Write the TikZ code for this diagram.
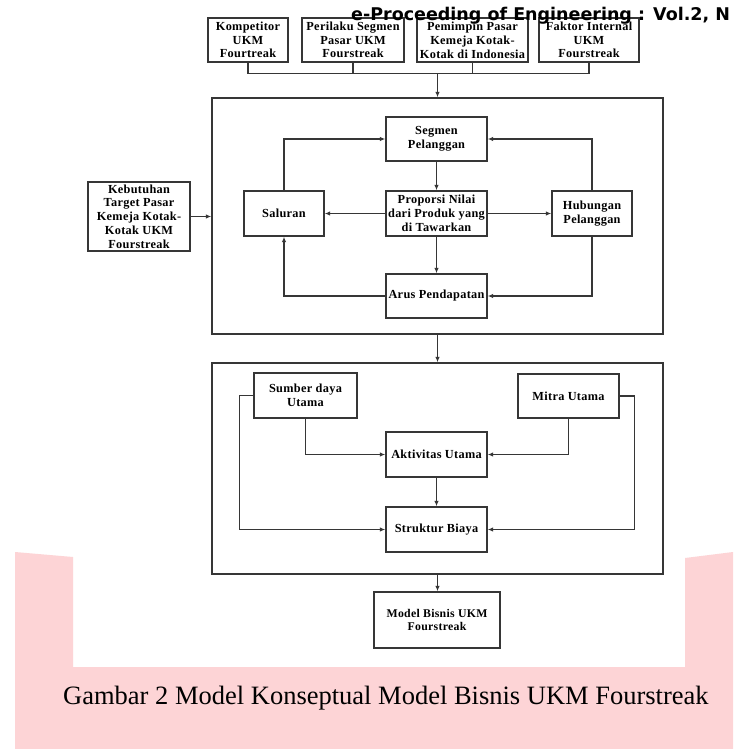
\documentclass[tikz,border=0pt]{standalone}
\usepackage{fontspec}
\setmainfont{Liberation Serif}
\newfontfamily\hdrfont{DejaVu Sans}
\newfontfamily\boxfont[LetterSpace=2.5]{Liberation Serif}
\usetikzlibrary{arrows.meta}
\definecolor{linegray}{HTML}{363636}
\definecolor{pinkbg}{HTML}{FDD4D6}
\tikzset{
  bx/.style={draw=linegray, line width=1.4pt, fill=white, inner sep=0pt, align=center,
    font=\boxfont\fontsize{12.3}{13.8}\selectfont\bfseries},
  frame/.style={draw=linegray, line width=1.4pt, inner sep=0pt},
  conn/.style={draw=linegray, line width=1.3pt},
  arr/.style={conn, -{Latex[length=5.5pt,width=4.5pt]}},
}
\begin{document}
\begin{tikzpicture}[x=1pt,y=-1pt]
\useasboundingbox (0,0) rectangle (733,749);
\clip (0,0) rectangle (733,749);
\fill[white] (0,0) rectangle (733,749);
% pink page background
\fill[pinkbg] (15,552) -- (73,557) -- (73,667) -- (685,667) -- (685,558) -- (733,552) -- (733,749) -- (15,749) -- cycle;

% top boxes
\node[bx, minimum width=80pt, minimum height=44pt] (k1) at (248,40) {Kompetitor\\UKM\\Fourtreak};
\node[bx, minimum width=102pt, minimum height=44pt] (k2) at (353,40) {Perilaku Segmen\\Pasar UKM\\Fourstreak};
\node[bx, minimum width=111pt, minimum height=44pt] (k3) at (472.5,40) {Pemimpin Pasar\\Kemeja Kotak-\\Kotak di Indonesia};
\node[bx, minimum width=100pt, minimum height=44pt] (k4) at (589,40) {Faktor Internal\\UKM\\Fourstreak};

% containers
\node[frame, minimum width=451pt, minimum height=236pt] (box1) at (437.5,216) {};
\node[frame, minimum width=451pt, minimum height=211pt] (box2) at (437.5,468.5) {};

% first container
\node[bx, minimum width=101pt, minimum height=44pt] (seg) at (436.5,139) {Segmen\\Pelanggan};
\node[bx, minimum width=101pt, minimum height=45pt] (prop) at (436.5,213.5) {Proporsi Nilai\\dari Produk yang\\di Tawarkan};
\node[bx, minimum width=101pt, minimum height=44pt] (arus) at (436.5,296) {Arus Pendapatan};
\node[bx, minimum width=80pt, minimum height=45pt] (sal) at (284,213.5) {Saluran};
\node[bx, minimum width=80pt, minimum height=45pt] (hub) at (592,213.5) {Hubungan\\Pelanggan};
\node[bx, minimum width=102pt, minimum height=69pt] (keb) at (139,216.5) {Kebutuhan\\Target Pasar\\Kemeja Kotak-\\Kotak UKM\\Fourstreak};

% second container
\node[bx, minimum width=103pt, minimum height=45pt] (sum) at (305.5,395.5) {Sumber daya\\Utama};
\node[bx, minimum width=101pt, minimum height=44pt] (mit) at (568.5,396) {Mitra Utama};
\node[bx, minimum width=101pt, minimum height=45pt] (akt) at (436.5,454.5) {Aktivitas Utama};
\node[bx, minimum width=101pt, minimum height=45pt] (str) at (436.5,529.5) {Struktur Biaya};

% result
\node[bx, minimum width=126pt, minimum height=56pt, font=\boxfont\fontsize{11.8}{12.8}\selectfont\bfseries] (model) at (437,620) {Model Bisnis UKM\\Fourstreak};

% top connectors
\draw[conn] (k1.south) -- ++(0,11) coordinate (b1) -- (b1 -| k4.south) -- (k4.south);
\draw[conn] (k2.south) -- (k2.south |- b1);
\draw[conn] (k3.south) -- (k3.south |- b1);
\draw[arr] (b1 -| box1.north) -- (box1.north);

% first container connectors
\draw[arr] (sal.north) |- (seg.west);
\draw[arr] (hub.north) |- (seg.east);
\draw[arr] (seg.south) -- (prop.north);
\draw[arr] (prop.west) -- (sal.east);
\draw[arr] (prop.east) -- (hub.west);
\draw[arr] (prop.south) -- (arus.north);
\draw[arr] (arus.west) -| (sal.south);
\draw[arr] (hub.south) |- (arus.east);
\draw[arr] (keb.east) -- (keb.east -| box1.west);
\draw[arr] (box1.south) -- (box2.north);

% second container connectors
\draw[arr] (sum.south) |- (akt.west);
\draw[arr] (mit.south) |- (akt.east);
\draw[arr] (sum.west) -- ++(-14,0) |- (str.west);
\draw[arr] (mit.east) -- ++(15,0) |- (str.east);
\draw[arr] (akt.south) -- (str.north);
\draw[arr] (box2.south) -- (box2.south |- model.north);

% header
\node[anchor=base west, inner sep=0pt, font=\hdrfont\bfseries\fontsize{17.5}{20}\selectfont] (hdr) at (351,20.5) {e-Proceeding of Engineering : Vol.2, N};

% caption
\node[anchor=base west, inner sep=0pt, font=\fontsize{26.5}{30}\selectfont] (cap) at (63,704) {Gambar 2 Model Konseptual Model Bisnis UKM Fourstreak};
\end{tikzpicture}
\end{document}
